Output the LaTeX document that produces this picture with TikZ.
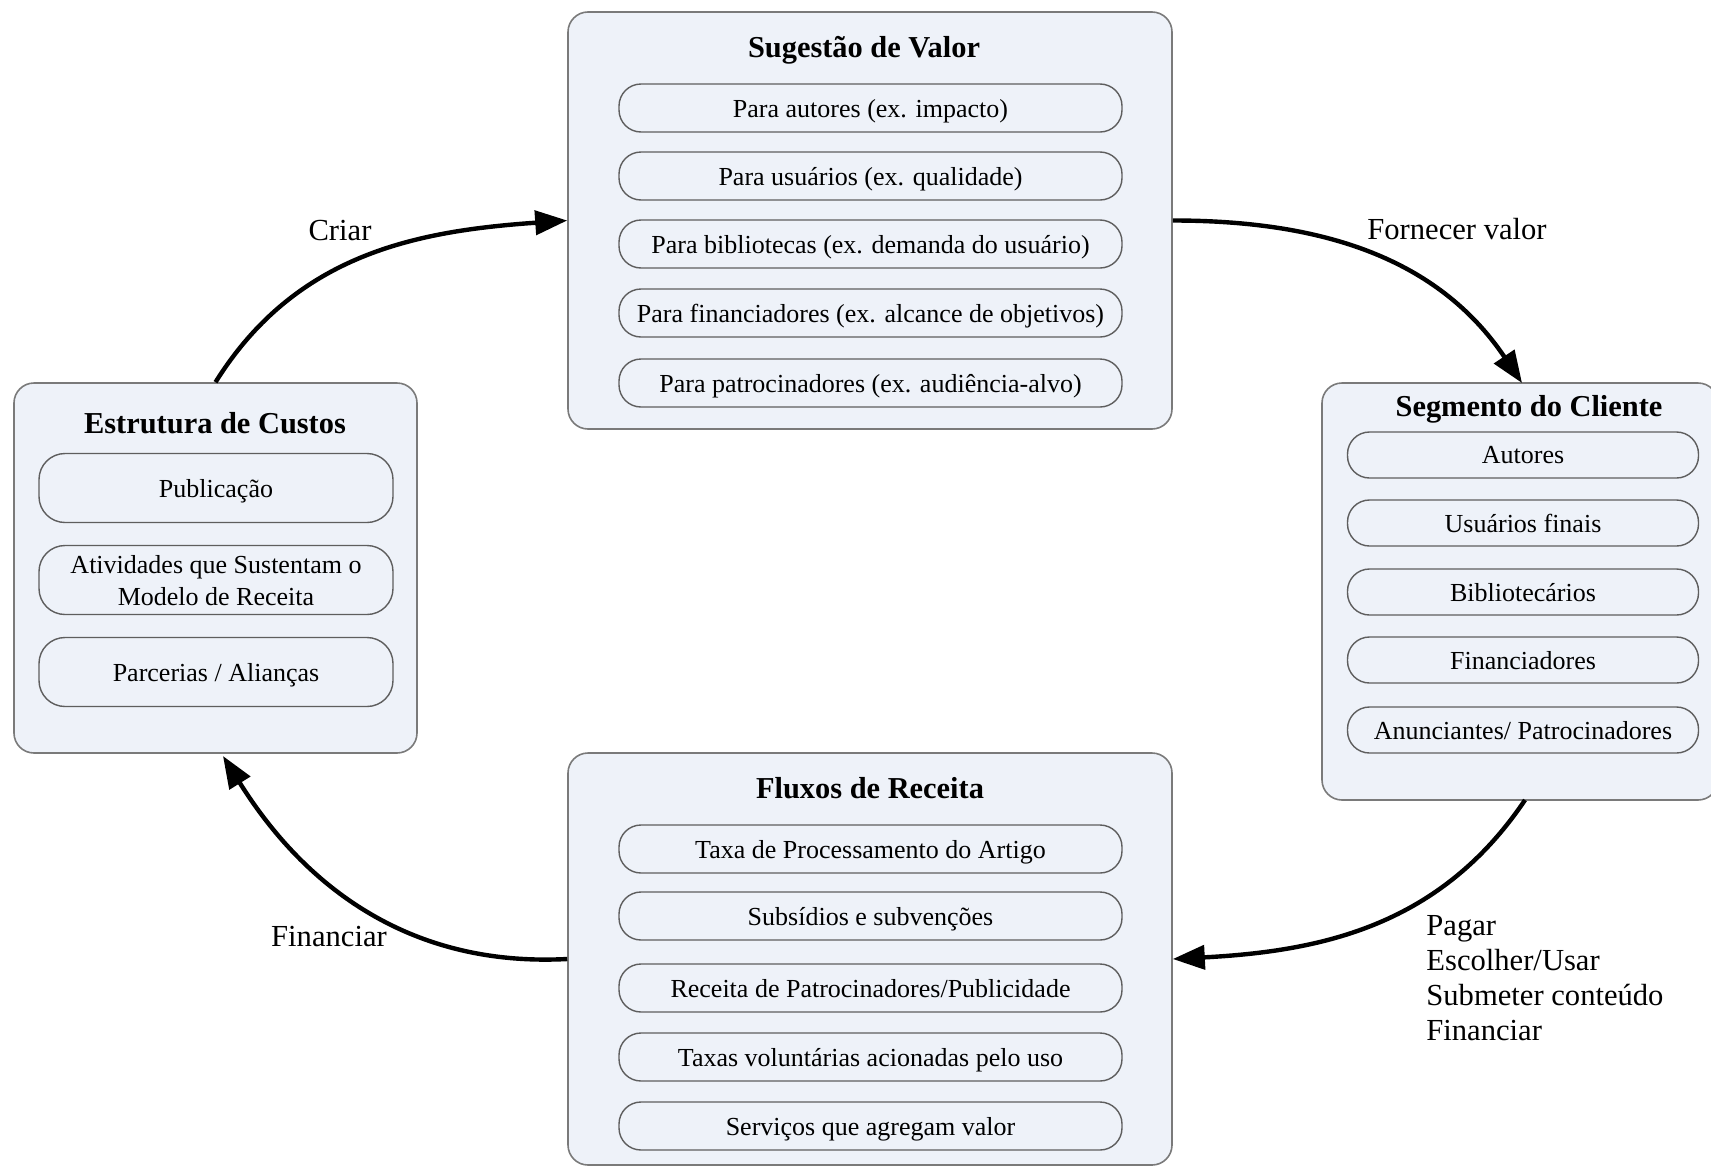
\documentclass[tikz,border=0pt]{standalone}
\usepackage{fontspec}
\setmainfont{Liberation Serif}
\usetikzlibrary{arrows.meta}
\definecolor{boxfill}{HTML}{EEF2F9}
\definecolor{boxline}{HTML}{7A7A7A}
\definecolor{pillline}{HTML}{5E5E5E}
\begin{document}
\begin{tikzpicture}[x=0.5pt,y=-0.5pt,
  outer/.style={draw=boxline,fill=boxfill,line width=0.8pt,rounded corners=10pt,inner sep=0pt},
  pill/.style={draw=pillline,fill=boxfill,line width=0.7pt,rounded corners=11pt,inner sep=0pt,align=center,text depth=0pt,font=\fontsize{13}{16}\selectfont},
  ttl/.style={font=\fontsize{15.2}{18}\selectfont\bfseries},
  lbl/.style={font=\fontsize{15.3}{17.5}\selectfont,inner sep=0pt},
  flow/.style={line width=2.2pt,-{Triangle[length=16pt,width=12pt]}}
]
\useasboundingbox (0,0) rectangle (1711,1167);
\fill[white] (0,0) rectangle (1711,1167);

% outer boxes
\node[outer,minimum width=302pt,minimum height=208.5pt] (T) at (870,220.5) {};
\node[outer,minimum width=201.5pt,minimum height=185pt] (L) at (215.5,568) {};
\node[outer,minimum width=198pt,minimum height=208.5pt] (R) at (1520,591.5) {};
\node[outer,minimum width=302pt,minimum height=206pt] (B) at (870,959) {};

% titles
\node[ttl] (Tt) at (864,50) {Sugestão de Valor};
\node[ttl] (Lt) at (215,423) {Estrutura de Custos};
\node[ttl] (Rt) at (1529,409) {Segmento do Cliente};
\node[ttl] (Bt) at (870,788) {Fluxos de Receita};

% top pills
\tikzset{tp/.style={pill,minimum width=251.5pt,minimum height=24pt}}
\node[tp] (T1) at (870.5,108) {Para autores (ex. impacto)};
\node[tp] (T2) at (870.5,176) {Para usuários (ex. qualidade)};
\node[tp] (T3) at (870.5,244) {Para bibliotecas (ex. demanda do usuário)};
\node[tp] (T4) at (870.5,313) {Para financiadores (ex. alcance de objetivos)};
\node[tp] (T5) at (870.5,383) {Para patrocinadores (ex. audiência-alvo)};

% left pills
\tikzset{lp/.style={pill,minimum width=177pt,minimum height=34.5pt,rounded corners=13pt}}
\node[lp] (L1) at (216,488) {Publicação};
\node[lp] (L2) at (216,580) {Atividades que Sustentam o\\Modelo de Receita};
\node[lp] (L3) at (216,672) {Parcerias / Alianças};

% right pills
\tikzset{rp/.style={pill,minimum width=175.5pt,minimum height=23pt}}
\node[rp] (R1) at (1523,455) {Autores};
\node[rp] (R2) at (1523,523) {Usuários finais};
\node[rp] (R3) at (1523,592) {Bibliotecários};
\node[rp] (R4) at (1523,660) {Financiadores};
\node[rp] (R5) at (1523,730) {Anunciantes/ Patrocinadores};

% bottom pills
\node[tp] (B1) at (870.5,849) {Taxa de Processamento do Artigo};
\node[tp] (B2) at (870.5,916) {Subsídios e subvenções};
\node[tp] (B3) at (870.5,988) {Receita de Patrocinadores/Publicidade};
\node[tp] (B4) at (870.5,1057) {Taxas voluntárias acionadas pelo uso};
\node[tp] (B5) at (870.5,1126) {Serviços que agregam valor};

% connectors
\coordinate (Rn) at (1522,383);
\coordinate (Rs) at (1525,800);
\coordinate (Ls) at (223,756);
\draw[flow] (L.north) to[out=58,in=184] (T.west);
\draw[flow] (T.east) to[out=0,in=124] (Rn);
\draw[flow] (Rs) to[out=236,in=3] (B.east);
\draw[flow] (B.west) to[out=183,in=302] (Ls);

% labels
\node[lbl] (c1) at (340,231) {Criar};
\node[lbl] (c2) at (1457,229) {Fornecer valor};
\node[lbl] (c3) at (329,937) {Financiar};
\node[lbl,anchor=north west,align=left] (c4) at (1426,915) {Pagar\\Escolher/Usar\\Submeter conteúdo\\Financiar};
\end{tikzpicture}
\end{document}
